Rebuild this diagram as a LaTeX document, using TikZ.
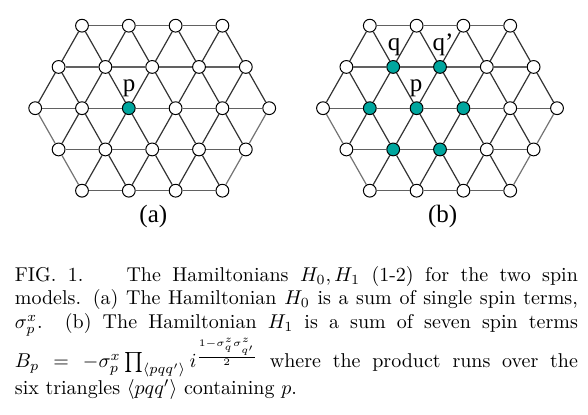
\documentclass[tikz,border=0pt]{standalone}
\usepackage{fontspec}
\newfontfamily\labfont{Liberation Serif}
\definecolor{sitefill}{RGB}{0,166,158}
\tikzset{
  sitenode/.style={circle,draw=black,line width=0.5pt,fill=white,inner sep=0pt,minimum size=6.4pt},
  hedge/.style={draw=black!62,line width=0.6pt},
  dedge/.style={draw=black!80,line width=0.6pt},
  bedge/.style={draw=black!55,line width=0.6pt},
  lab/.style={inner sep=0pt,anchor=base},
  hla23/.style={fill=sitefill},
  hlb12/.style={fill=sitefill}, hlb13/.style={fill=sitefill},
  hlb22/.style={fill=sitefill}, hlb23/.style={fill=sitefill}, hlb24/.style={fill=sitefill},
  hlb32/.style={fill=sitefill}, hlb33/.style={fill=sitefill},
}
\newcommand\lb[1]{{\labfont\fontsize{12.5pt}{15pt}\selectfont #1}}
\newcommand\trilattice[2]{%
  \foreach \r/\n in {0/4,1/5,2/6,3/5,4/4}{
    \foreach \i in {1,...,\n}{
      \node[sitenode,hl#1\r\i/.try] (#1-\r-\i) at ({#2+(\i-(\n+1)/2)*46.8},{25.7+\r*41.25}) {};
    }
  }
  % horizontal edges
  \foreach \r/\n in {0/4,1/5,2/6,3/5,4/4}{
    \foreach \i in {2,...,\n}{
      \pgfmathtruncatemacro\h{\i-1}
      \draw[hedge] (#1-\r-\h) -- (#1-\r-\i);
    }
  }
  % upper half diagonals
  \foreach \r/\n in {0/4,1/5}{
    \pgfmathtruncatemacro\s{\r+1}
    \foreach \i in {1,...,\n}{
      \pgfmathtruncatemacro\j{\i+1}
      \draw[dedge] (#1-\r-\i) -- (#1-\s-\i);
      \draw[dedge] (#1-\r-\i) -- (#1-\s-\j);
    }
  }
  % lower half diagonals
  \foreach \r/\m in {2/5,3/4}{
    \pgfmathtruncatemacro\s{\r+1}
    \foreach \i in {1,...,\m}{
      \pgfmathtruncatemacro\j{\i+1}
      \ifnum\i=1
        \draw[bedge] (#1-\s-\i) -- (#1-\r-\i);
      \else
        \draw[dedge] (#1-\s-\i) -- (#1-\r-\i);
      \fi
      \ifnum\i=\m
        \draw[bedge] (#1-\s-\i) -- (#1-\r-\j);
      \else
        \draw[dedge] (#1-\s-\i) -- (#1-\r-\j);
      \fi
    }
  }
}
\begin{document}
\begin{tikzpicture}[x=0.5pt,y=-0.5pt]
\useasboundingbox (0,0) rectangle (588,415);
\trilattice{a}{152.2}
\trilattice{b}{440}
\node[lab] (pa) at (129,91.7) {\lb{p}};
\node[lab] (pb) at (416,91.7) {\lb{p}};
\node[lab] (qb) at (394,50.7) {\lb{q}};
\node[lab] (qqb) at (443,50.7) {\lb{q’}};
\node[lab] (capa) at (153.3,222.7) {\lb{(a)}};
\node[lab] (capb) at (442.7,222.7) {\lb{(b)}};
\node[anchor=base west,inner sep=0pt] (caption) at (14.5,281.7) {\parbox[t]{281.5pt}{\fontsize{10pt}{11.65pt}\selectfont
FIG. 1.\hspace{1em} The Hamiltonians $H_0, H_1$ (1-2) for the two spin\linebreak
models. (a) The Hamiltonian $H_0$ is a sum of single spin terms,\linebreak
$\sigma^x_p$. (b) The Hamiltonian $H_1$ is a sum of seven spin terms\linebreak
$B_p = -\sigma^x_p \prod_{\langle pqq'\rangle} i^{\frac{1-\sigma^z_q\sigma^z_{q'}}{2}}$ where the product runs over the\linebreak
six triangles $\langle pqq'\rangle$ containing $p$.}};
\end{tikzpicture}
\end{document}
